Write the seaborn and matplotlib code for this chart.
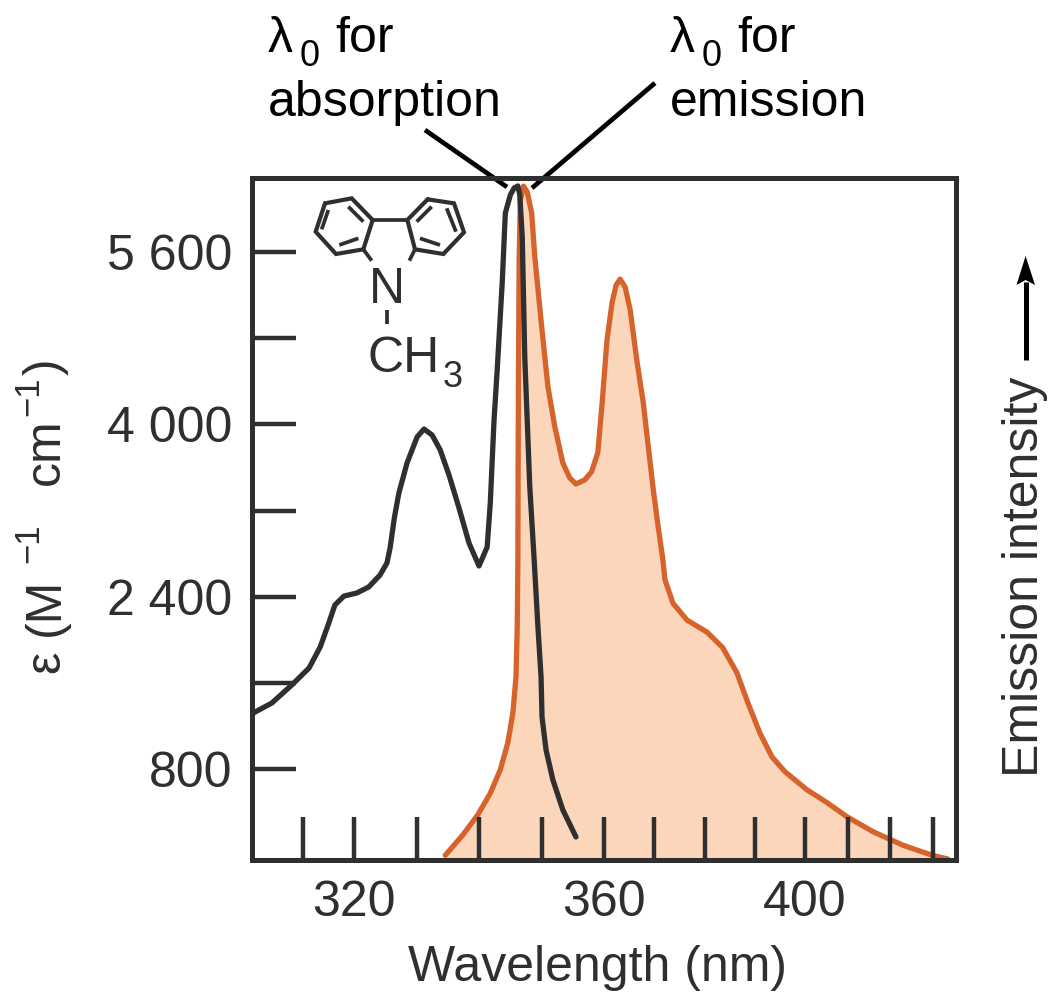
import numpy as np
import pandas as pd
import matplotlib
matplotlib.use('Agg')
import matplotlib.pyplot as plt
from matplotlib.lines import Line2D
from matplotlib.patches import Polygon
from matplotlib.transforms import Affine2D
import seaborn as sns

# absorption spectrum
abs_wavelength = [300.0, 300.6, 303.9, 307.8, 311.2, 313.4, 315.1, 316.3, 318.1, 320.5, 322.4, 324.2,
                  325.3, 325.8, 326.5, 327.2, 328.5, 330.1, 331.2, 332.5, 333.8, 335.2, 336.8, 338.4,
                  340.0, 341.3, 341.8, 342.4, 342.9, 343.7, 344.2, 345.0, 345.6, 346.2, 346.5, 346.9,
                  347.3, 348.1, 348.8, 349.4, 349.9, 350.05, 350.7, 351.8, 353.4, 355.5]
abs_epsilon = [1311, 1329, 1413, 1580, 1738, 1933, 2156, 2323, 2406, 2434, 2490, 2601,
               2713, 2852, 3140, 3363, 3642, 3883, 3957, 3901, 3762, 3530, 3224, 2899,
               2685, 2861, 3270, 4041, 4505, 5313, 5963, 6130, 6195, 6214, 6130, 5740,
               4626, 3419, 2741, 2119, 1654, 1283, 976, 698, 419, 169]

# emission spectrum, arbitrary units
em_wavelength = [334.6, 337.4, 339.8, 341.8, 343.4, 344.6, 345.4, 345.9, 346.1, 346.2, 346.25, 346.3,
                 346.4, 346.6, 347.1, 347.7, 348.4, 348.9, 350.0, 351.0, 352.1, 353.4, 354.5, 355.5,
                 356.9, 358.0, 359.0, 359.7, 360.6, 361.6, 362.4, 363.2, 364.2, 365.2, 366.5, 367.8,
                 369.7, 370.7, 371.7, 372.1, 373.7, 376.5, 380.5, 383.6, 386.4, 388.6, 391.0, 393.4,
                 396.0, 400.5, 405.2, 409.9, 416.0, 423.0, 429.8, 433.5]
em_intensity = [0.7, 3.7, 6.7, 9.9, 13.4, 17.4, 21.8, 27.2, 34.6, 44.5, 60.8, 72.7,
                89.0, 97.9, 100.0, 99.1, 96.0, 89.5, 79.1, 70.2, 64.3, 58.9, 56.7, 55.8,
                56.4, 57.6, 60.4, 67.8, 77.2, 82.7, 85.3, 86.2, 85.0, 81.6, 74.2, 67.8,
                55.4, 49.7, 44.5, 41.6, 38.1, 35.6, 33.8, 31.5, 27.8, 23.3, 18.8, 15.3,
                13.1, 10.4, 8.5, 6.4, 4.2, 2.2, 0.7, 0.15]

x_ticks = [310, 320, 330, 340, 350, 360, 370, 380, 390, 400, 410, 420, 430]
x_tick_labels = ['', '320', '', '', '', '360', '', '', '', '400', '', '', '']
y_ticks = [800, 1600, 2400, 3200, 4000, 4800, 5600]
y_tick_labels = ['800', '', '2 400', '', '4 000', '', '5 600']

# the printed wavelength axis isn't linear, so map it through where the ticks sit
scale_wl = [300, 310, 320, 330, 340, 350, 360, 370, 380, 390, 400, 410, 420, 430, 435.4]
scale_pos = [252, 303, 353.6, 416.5, 479, 541.7, 604, 654.4, 704.6, 755, 805, 847.6, 890, 933, 956]

BLACK = '#2f2f2f'
ORANGE = '#d5632b'
PEACH = '#fbd6bb'
W, H = 1054, 997
FS = 36

sns.set_theme(style='white')
plt.rcParams['font.family'] = ['Liberation Sans', 'DejaVu Sans']

df_abs = pd.DataFrame({'wl': abs_wavelength, 'eps': abs_epsilon})
df_em = pd.DataFrame({'wl': em_wavelength, 'inten': em_intensity})

fig = plt.figure(figsize=(W / 100, H / 100), dpi=100, facecolor='white')
ax = fig.add_axes([252 / W, 1 - 860 / H, 704 / W, 682 / H])
ax2 = ax.twinx()


def fwd(v):
    return np.interp(v, scale_wl, scale_pos)


def inv(v):
    return np.interp(v, scale_pos, scale_wl)


ax.set_xscale('function', functions=(fwd, inv))
ax.set_xlim(300, 435.4)
ax.set_ylim(-45, 6288)
ax2.set_ylim(0, 101.2)

ax.set_zorder(2)
ax.patch.set_visible(False)

ax2.fill_between(df_em['wl'], 0, df_em['inten'], color=PEACH, lw=0)
sns.lineplot(data=df_em, x='wl', y='inten', ax=ax2, color=ORANGE, lw=3.8, sort=False, estimator=None,
             solid_joinstyle='round')
sns.lineplot(data=df_abs, x='wl', y='eps', ax=ax, color=BLACK, lw=3.8, sort=False, estimator=None,
             solid_joinstyle='round')

ax.set_xticks(x_ticks)
ax.set_xticklabels(x_tick_labels)
ax.set_yticks(y_ticks)
ax.set_yticklabels(y_tick_labels)
ax.minorticks_off()
ax.tick_params(axis='x', direction='in', length=31, width=3.2, color=BLACK, labelsize=FS, labelcolor=BLACK, pad=0, bottom=True)
ax.tick_params(axis='y', direction='in', length=32, width=3.2, color=BLACK, labelsize=FS, labelcolor=BLACK, pad=14, left=True)
for lab in ax.get_xticklabels():
    lab.set_y(-0.03)
for lab in ax.get_yticklabels():
    lab.set_verticalalignment('center_baseline')
ax2.set_yticks([])

for a in (ax, ax2):
    for s in a.spines.values():
        s.set_linewidth(3.6)
        s.set_color(BLACK)

# pixel transform, origin top left like the reference image
px = Affine2D().scale(1 / W, -1 / H).translate(0, 1) + fig.transFigure


def seg(x0, y0, x1, y1, lw=2.9, color=BLACK):
    fig.add_artist(Line2D([x0, x1], [y0, y1], transform=px, color=color, lw=lw, solid_capstyle='butt'))


def label(x, y, s, size=FS, color='black'):
    fig.text(x, y, s, transform=px, fontsize=size, color=color, va='baseline')


def vlabel(y, s, x=59, size=FS):
    fig.text(x, y, s, transform=px, fontsize=size, color=BLACK, rotation=90,
             rotation_mode='anchor', ha='left', va='baseline')


ax.set_xlabel('Wavelength (nm)', fontsize=FS, color=BLACK)
ax.xaxis.set_label_coords(598, 968, transform=px)
ax.xaxis.label.set_va('center')
ax.set_ylabel('')
ax2.set_ylabel('Emission intensity', fontsize=FS, color=BLACK, rotation=90)
ax2.yaxis.set_label_coords(1025, 577, transform=px)
ax2.yaxis.label.set_va('center')

# epsilon label is built in pieces, the print has wide gaps and big superscripts
vlabel(673, 'ε')
vlabel(636, '(M')
vlabel(563, '−1', x=38, size=25)
vlabel(485, 'cm')
vlabel(416, '−1', x=38, size=25)
vlabel(375, ')')

# arrow next to emission intensity
seg(1025.6, 360, 1025.6, 282, lw=3.6, color='black')
fig.add_artist(Polygon([(1025.6, 256), (1035, 285), (1025.6, 280), (1016.5, 285)], closed=True,
                       transform=px, color='black', lw=0))

# lambda labels and their leader lines
for x0 in (268, 670):
    label(x0, 52, 'λ')
    label(x0 + 32, 66, '0', size=26)
    label(x0 + 67, 52, 'for')
label(268, 116, 'absorption')
label(670, 116, 'emission')
seg(425, 130, 507, 187, lw=3.4, color='black')
seg(655, 83, 532, 188, lw=3.4, color='black')

# N-methylcarbazole sketch
zx = lambda z: 300 + z / 3
zy = lambda z: 170 + z / 3
left_ring = [(75, 100), (155, 85), (218, 150), (190, 238), (108, 252), (47, 185), (75, 100)]
right_ring = [(383, 88), (462, 100), (492, 187), (430, 252), (345, 238), (322, 150), (383, 88)]
bonds = [((218, 150), (322, 150)), ((190, 238), (215, 272)), ((345, 238), (328, 272)), ((262, 420), (262, 462)),
         ((145, 110), (190, 155)), ((85, 120), (65, 178)), ((118, 225), (175, 205)),
         ((350, 155), (395, 110)), ((440, 115), (468, 185)), ((360, 205), (420, 225))]
for ring in (left_ring, right_ring):
    fig.add_artist(Line2D([zx(p[0]) for p in ring], [zy(p[1]) for p in ring], transform=px,
                          color=BLACK, lw=3.0, solid_joinstyle='miter'))
for a, b in bonds:
    seg(zx(a[0]), zy(a[1]), zx(b[0]), zy(b[1]), lw=2.7)
fig.text(387, 303, 'N', transform=px, fontsize=FS, color=BLACK, ha='center', va='baseline')
label(368, 372, 'CH', color=BLACK)
label(443, 387, '3', size=26, color=BLACK)

fig.savefig('out.png', dpi=100)
